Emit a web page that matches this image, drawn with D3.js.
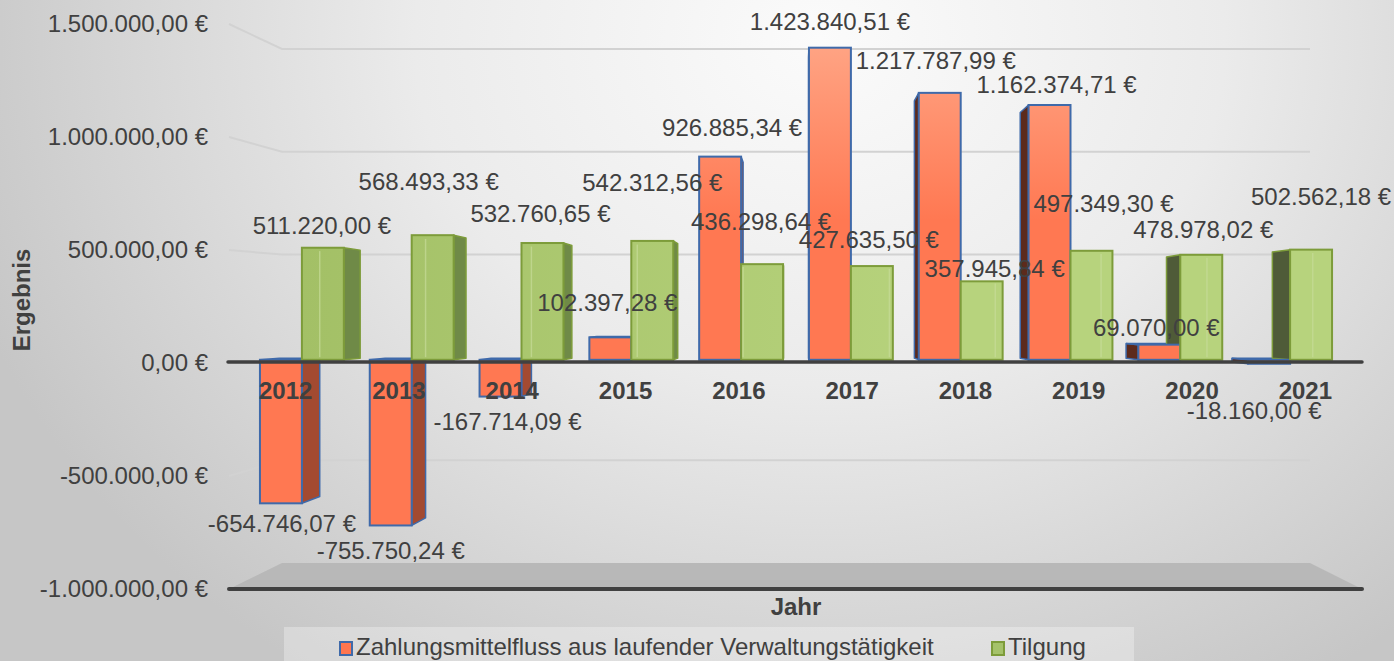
<!DOCTYPE html>
<html>
<head>
<meta charset="utf-8">
<script src="https://cdn.jsdelivr.net/npm/d3@7"></script>
<style>
  html, body { margin: 0; padding: 0; background: #d0d0d0; }
  svg { display: block; font-family: "Liberation Sans", Arial, sans-serif; }
</style>
</head>
<body>
<svg id="chart" width="1394" height="661"></svg>
<script>
// ---- data ----
const years = ["2012", "2013", "2014", "2015", "2016", "2017", "2018", "2019", "2020", "2021"];
const cashflow = [-654746.07, -755750.24, -167714.09, 102397.28, 926885.34, 1423840.51, 1217787.99, 1162374.71, 69070.00, -18160.00];
const tilgung = [511220.00, 568493.33, 532760.65, 542312.56, 436298.64, 427635.50, 357945.84, 497349.30, 478978.02, 502562.18];
const seriesNames = ["Zahlungsmittelfluss aus laufender Verwaltungstätigkeit", "Tilgung"];
const yTicks = [-1000000, -500000, 0, 500000, 1000000, 1500000];

// label nudges (px) relative to the end of each bar, as the 3D layout places them
const cfLabelShift = [[1, 20], [0, 25], [7, 25], [-3, -35], [12, -29], [0, -26], [-4, -32], [7, -21], [-3, -17], [-15, 47]];
const tilgLabelShift = [[-1, -22], [-4, -54], [-2, -30], [0, -58], [-1, -43], [-3, -27], [13, -13], [12, -47], [2, -25], [10, -53]];

// ---- formatting (German) ----
const de = d3.formatLocale({ decimal: ",", thousands: ".", grouping: [3], currency: ["", " €"], minus: "-" });
const num = de.format(",.2f");
const euro = v => num(v) + " €";

const svg = d3.select("#chart");
const W = 1394, H = 661;
const textColor = "#404040";

// ---- defs: background and fills ----
const defs = svg.append("defs");
const bg = defs.append("radialGradient").attr("id", "bg")
  .attr("gradientUnits", "userSpaceOnUse")
  .attr("cx", 0).attr("cy", 0).attr("r", 900)
  .attr("gradientTransform", "translate(820,40) scale(1,0.85)");
bg.append("stop").attr("offset", 0).attr("stop-color", "#fbfbfb");
bg.append("stop").attr("offset", 0.45).attr("stop-color", "#ebebeb");
bg.append("stop").attr("offset", 1).attr("stop-color", "#c6c6c6");

const orangeGrad = defs.append("linearGradient").attr("id", "orangeFront")
  .attr("gradientUnits", "userSpaceOnUse").attr("x1", 0).attr("y1", 220).attr("x2", 0).attr("y2", 40);
orangeGrad.append("stop").attr("offset", 0).attr("stop-color", "#ff7852");
orangeGrad.append("stop").attr("offset", 1).attr("stop-color", "#ffa585");

const greenGrad = defs.append("linearGradient").attr("id", "greenFront")
  .attr("gradientUnits", "userSpaceOnUse").attr("x1", 300).attr("y1", 0).attr("x2", 950).attr("y2", 0);
greenGrad.append("stop").attr("offset", 0).attr("stop-color", "#a3c066");
greenGrad.append("stop").attr("offset", 1).attr("stop-color", "#b7d37d");

svg.append("rect").attr("width", W).attr("height", H).attr("fill", "url(#bg)");

// ---- scales ----
// front plane (axis labels, categories), back wall (gridlines), bar plane (columns)
const yFront = d3.scaleLinear().domain([-1000000, 1500000]).range([589, 24]);
const yBack = d3.scaleLinear().domain([-1000000, 1500000]).range([563, 49]);
const yBar = d3.scaleLinear().domain([-1000000, 1500000]).range([579, 31]);

const xFront = d3.scaleBand().domain(years).range([229, 1362]);
const xBar = d3.scaleBand().domain(years).range([247, 1345]).paddingInner(0.236).paddingOuter(0.118);
const xSub = d3.scaleBand().domain(["cf", "tilg"]).range([0, xBar.bandwidth()]);

const backLeft = 282, backRight = 1310;
const vp = { x: 797, y: 314 };   // vanishing point of the 3D view
const depth = 0.036;              // column depth as a fraction toward the vanishing point
const toBack = (x, y) => [x + (vp.x - x) * depth, y + (vp.y - y) * depth];

// ---- floor ----
svg.append("polygon")
  .attr("points", [[backLeft, yBack(-1000000)], [backRight, yBack(-1000000)], [1362, yFront(-1000000)], [229, yFront(-1000000)]].map(p => p.join(",")).join(" "))
  .attr("fill", "#b8b8b8");

// ---- gridlines on the back wall with connectors to the axis ----
const gridG = svg.append("g");
yTicks.filter(t => t !== -1000000 && t !== 0).forEach(t => {
  gridG.append("polyline")
    .attr("points", [[229, yFront(t)], [backLeft, yBack(t)], [backRight, yBack(t)]].map(p => p.join(",")).join(" "))
    .attr("fill", "none").attr("stroke", "#d2d2d2").attr("stroke-width", 2);
});

// ---- bars ----
const bars = [];
years.forEach((yr, i) => {
  bars.push({ key: "cf", i, v: cashflow[i], x0: xBar(yr) + xSub("cf"), shift: cfLabelShift[i] });
  bars.push({ key: "tilg", i, v: tilgung[i], x0: xBar(yr) + xSub("tilg"), shift: tilgLabelShift[i] });
});
bars.forEach(b => {
  b.x1 = b.x0 + xSub.bandwidth();
  b.yTop = yBar(Math.max(0, b.v));
  b.yBot = yBar(Math.min(0, b.v));
  b.cx = (b.x0 + b.x1) / 2;
  b.leftOfVp = b.cx < vp.x;
});

const style = {
  cf: { stroke: "#3f6aaa", sideR: "#a34a31", sideL: "#5c2a1c", top: "#ff9a7a", front: "url(#orangeFront)" },
  tilg: { stroke: "#7d9c3a", sideR: "#6f8a47", sideL: "#4f5b38", top: "#c4dc92", front: "url(#greenFront)" }
};
const pts = arr => arr.map(p => p.join(",")).join(" ");

const sideG = svg.append("g");
const frontG = svg.append("g");

bars.forEach(b => {
  const s = style[b.key];
  const ex = b.leftOfVp ? b.x1 : b.x0;
  const t0 = toBack(ex, b.yTop), t1 = toBack(ex, b.yBot);
  sideG.append("polygon")
    .attr("points", pts([[ex, b.yTop], t0, t1, [ex, b.yBot]]))
    .attr("fill", b.leftOfVp ? s.sideR : s.sideL)
    .attr("stroke", s.stroke).attr("stroke-width", 1.5).attr("stroke-linejoin", "round");
  if (b.yTop > vp.y) {
    const a = toBack(b.x0, b.yTop), c = toBack(b.x1, b.yTop);
    sideG.append("polygon")
      .attr("points", pts([[b.x0, b.yTop], [b.x1, b.yTop], c, a]))
      .attr("fill", s.top).attr("stroke", s.stroke).attr("stroke-width", 1.5);
  }
});

bars.forEach(b => {
  const s = style[b.key];
  frontG.append("rect")
    .attr("x", b.x0).attr("y", b.yTop)
    .attr("width", b.x1 - b.x0).attr("height", Math.max(0.5, b.yBot - b.yTop))
    .attr("fill", s.front).attr("stroke", s.stroke).attr("stroke-width", 2);
  if (b.key === "tilg") {
    // back edges seen through the translucent green column
    const ex = b.leftOfVp ? b.x0 : b.x1;
    const e0 = toBack(ex, b.yTop), e1 = toBack(ex, b.yBot);
    frontG.append("line")
      .attr("x1", e0[0]).attr("y1", e0[1] + 1).attr("x2", e1[0]).attr("y2", e1[1] - 1)
      .attr("stroke", "#c6dc98").attr("stroke-opacity", 0.7).attr("stroke-width", 1.5);
  }
});

// ---- zero line and floor edge ----
svg.append("line").attr("x1", 228).attr("x2", 1362).attr("y1", yFront(0) - 1).attr("y2", yFront(0) - 1)
  .attr("stroke", "#404040").attr("stroke-width", 3.5).attr("stroke-linecap", "round");
svg.append("line").attr("x1", 229).attr("x2", 1362).attr("y1", yFront(-1000000)).attr("y2", yFront(-1000000))
  .attr("stroke", "#404040").attr("stroke-width", 4).attr("stroke-linecap", "round");

// ---- axes ----
const yAxisG = svg.append("g").attr("transform", "translate(229,0)")
  .call(d3.axisLeft(yFront).tickValues(yTicks).tickSize(0).tickPadding(21).tickFormat(euro));
yAxisG.select(".domain").remove();
yAxisG.attr("font-size", null).attr("font-family", null);
yAxisG.selectAll("text").attr("fill", textColor).style("font-size", "24px");

const xAxisG = svg.append("g").attr("transform", "translate(0,382)")
  .call(d3.axisBottom(xFront).tickSize(0).tickPadding(0));
xAxisG.select(".domain").remove();
xAxisG.attr("font-size", null).attr("font-family", null);
xAxisG.selectAll("text").attr("fill", textColor).style("font-size", "24px").style("font-weight", "bold");

// axis titles
svg.append("text").attr("transform", "translate(21,300) rotate(-90)")
  .attr("text-anchor", "middle").attr("dominant-baseline", "central")
  .attr("fill", textColor).style("font-size", "24px").style("font-weight", "bold").text("Ergebnis");
svg.append("text").attr("x", 796).attr("y", 606)
  .attr("text-anchor", "middle").attr("dominant-baseline", "central")
  .attr("fill", textColor).style("font-size", "24px").style("font-weight", "bold").text("Jahr");

// ---- value labels ----
const labelG = svg.append("g");
bars.forEach(b => {
  const yEnd = b.v >= 0 ? b.yTop : b.yBot;
  labelG.append("text")
    .attr("x", b.cx + b.shift[0]).attr("y", yEnd + b.shift[1])
    .attr("text-anchor", "middle").attr("dominant-baseline", "central")
    .attr("fill", textColor).style("font-size", "24px")
    .text(euro(b.v));
});

// ---- legend ----
const legend = svg.append("g");
legend.append("rect").attr("x", 284).attr("y", 627).attr("width", 850).attr("height", 40)
  .attr("fill", "#ffffff").attr("fill-opacity", 0.3);
const legendItems = [
  { name: seriesNames[0], x: 340, fill: "#ff7650", stroke: "#3f6aaa" },
  { name: seriesNames[1], x: 992, fill: "#a5c26a", stroke: "#7d9c3a" }
];
legendItems.forEach(it => {
  legend.append("rect").attr("x", it.x).attr("y", 642).attr("width", 12).attr("height", 13)
    .attr("fill", it.fill).attr("stroke", it.stroke).attr("stroke-width", 2);
  legend.append("text").attr("x", it.x + 16).attr("y", 655)
    .attr("fill", textColor).style("font-size", "24px").text(it.name);
});
</script>
</body>
</html>
